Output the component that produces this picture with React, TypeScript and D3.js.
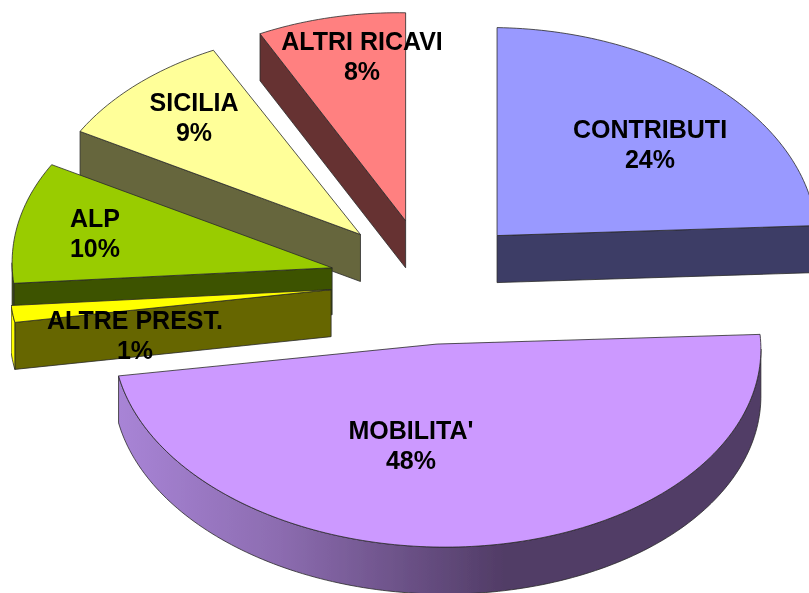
import React from "react";
import * as d3 from "d3";

const categories = ["CONTRIBUTI", "MOBILITA'", "ALTRE PREST.", "ALP", "SICILIA", "ALTRI RICAVI"];
const values = [23.85, 48.25, 1.3, 9.6, 9.4, 7.6];
const percentLabels = ["24%", "48%", "1%", "10%", "9%", "8%"];
const colors = ["#9999ff", "#cc99ff", "#ffff00", "#99cc00", "#ffff99", "#ff8080"];

// painting order, back to front
const drawOrder = [5, 4, 3, 2, 0, 1];

const width = 809;
const height = 593;

// 3D pie projection
const cx = 429;
const cy = 281.6;
const rx = 320;
const ry = 208;
const skew = 5;
const explode = 0.309;
const depth = 47;

// small per slice corrections for the perspective: dx, dy, x scale, y scale
const nudges = [
  [0.7, 0, 1, 1],
  [-4.5, -1.5, 1.012, 0.976],
  [0, 0.5, 1.005, 1],
  [0, 0.5, 1, 0.985],
  [0.5, 0, 1, 0.985],
  [0, 2, 0.99, 1],
];

// label centre x and first baseline, same order as categories
const labelPos = [
  [650, 138],
  [411, 439],
  [135, 329],
  [95, 227],
  [194, 111],
  [362, 50],
];

type Pt = [number, number];

const line = d3.line<Pt>();

const sampleAngles = (a0: number, a1: number) => {
  const n = Math.max(2, Math.ceil((a1 - a0) / 0.02));
  return d3.range(n + 1).map((i) => a0 + ((a1 - a0) * i) / n);
};

const pie = d3
  .pie<number>()
  .sort(null)
  .value((d) => d);

export default function App() {
  const arcs = pie(values);

  return (
    <svg
      width={width}
      height={height}
      style={{ position: "absolute", left: 0, top: 0, background: "#fff" }}
    >
      <defs>
        <linearGradient id="wall" gradientUnits="userSpaceOnUse" x1={120} x2={760} y1={0} y2={0}>
          <stop offset="0" stopColor="#a884d6" />
          <stop offset="0.25" stopColor="#8c6cb0" />
          <stop offset="0.6" stopColor="#513c66" />
          <stop offset="1" stopColor="#513c66" />
        </linearGradient>
        <filter id="soft" x="0" y="0" width="100%" height="100%">
          <feGaussianBlur stdDeviation="0.45" />
        </filter>
      </defs>

      <g filter="url(#soft)">
        {drawOrder.map((i) => {
          const { startAngle: a0, endAngle: a1 } = arcs[i];
          const mid = (a0 + a1) / 2;
          const [dx, dy, sx, sy] = nudges[i];
          const ox = cx + explode * rx * Math.sin(mid) + dx;
          const oy = cy - explode * ry * Math.cos(mid) + explode * skew * Math.sin(mid) + dy;
          const project = (a: number, z = 0): Pt => [
            ox + sx * rx * Math.sin(a),
            oy - sy * ry * Math.cos(a) + skew * Math.sin(a) + z,
          ];
          const dark = d3.interpolateRgb(colors[i], "#000")(0.6);

          const top: Pt[] = [[ox, oy], ...sampleAngles(a0, a1).map((a) => project(a))];

          // cut faces, only those turned to the viewer
          const faces: Pt[][] = [];
          if (Math.sin(a0) < -1e-6) {
            faces.push([[ox, oy], project(a0), project(a0, depth), [ox, oy + depth]]);
          }
          if (Math.sin(a1) > 1e-6) {
            faces.push([[ox, oy], project(a1), project(a1, depth), [ox, oy + depth]]);
          }

          // outer wall, front half of the ellipse only
          const w0 = Math.max(a0, Math.PI / 2);
          const w1 = Math.min(a1, (3 * Math.PI) / 2);
          const wallAngles = w1 > w0 ? sampleAngles(w0, w1) : [];
          const wall: Pt[] = [
            ...wallAngles.map((a) => project(a)),
            ...wallAngles.slice().reverse().map((a) => project(a, depth)),
          ];
          const wallFill = i === 1 ? "url(#wall)" : i === 2 ? colors[i] : dark;

          return (
            <g key={categories[i]} stroke="#2a2a2a" strokeWidth={0.8} strokeLinejoin="round">
              {faces.map((f, j) => (
                <path key={j} d={line(f) + "Z"} fill={dark} />
              ))}
              {wall.length > 0 && <path d={line(wall) + "Z"} fill={wallFill} />}
              <path d={line(top) + "Z"} fill={colors[i]} />
            </g>
          );
        })}

        <g
          fontFamily="'Liberation Sans', Arial, sans-serif"
          fontWeight="bold"
          fontSize={25}
          textAnchor="middle"
          fill="#000"
        >
          {categories.map((name, i) => (
            <text key={name} x={labelPos[i][0]} y={labelPos[i][1]}>
              <tspan x={labelPos[i][0]}>{name}</tspan>
              <tspan x={labelPos[i][0]} dy={30}>
                {percentLabels[i]}
              </tspan>
            </text>
          ))}
        </g>
      </g>
    </svg>
  );
}
